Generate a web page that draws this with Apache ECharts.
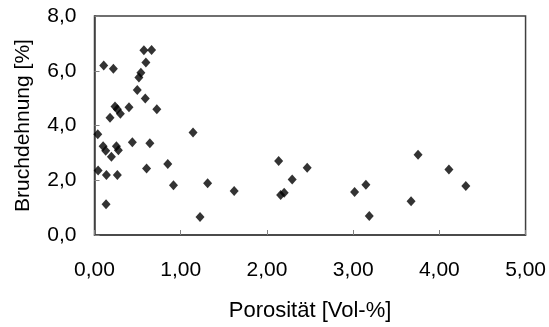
<!DOCTYPE html>
<html><head><meta charset="utf-8">
<script src="https://cdn.jsdelivr.net/npm/echarts@6/dist/echarts.min.js"></script>
<style>html,body{margin:0;padding:0;background:#fff}#c{width:549px;height:327px}</style>
</head><body><div id="c"></div>
<script>
var porositaet = [0.107,0.219,0.573,0.662,0.596,0.538,0.515,0.496,0.589,0.723,0.400,0.238,0.265,0.300,0.180,0.038,1.143,0.439,0.642,0.100,0.130,0.254,0.277,0.196,0.850,0.604,0.042,0.138,0.265,0.916,1.312,1.620,0.134,1.224,2.136,2.293,2.467,2.159,2.200,3.017,3.148,3.187,3.753,3.672,4.111,4.307];
var bruchdehnung = [6.19,6.07,6.75,6.76,6.30,5.93,5.75,5.30,4.99,4.59,4.67,4.69,4.59,4.43,4.28,3.68,3.74,3.39,3.35,3.24,3.08,3.24,3.10,2.86,2.59,2.43,2.36,2.19,2.19,1.82,1.89,1.61,1.12,0.66,2.70,2.03,2.46,1.46,1.54,1.57,1.84,0.69,2.93,1.23,2.39,1.79];
var xTicks = [0,1,2,3,4,5];
var yTicks = [0,2,4,6,8];
var points = porositaet.map(function(x,i){return [x,bruchdehnung[i]];});
var font = 'Liberation Sans, Arial, sans-serif';
var chart = echarts.init(document.getElementById('c'), null, {renderer:'canvas'});
chart.setOption({
  animation:false,
  grid:{left:94.5,right:22,top:16,bottom:87,show:true,borderColor:'#404040',borderWidth:1.5,backgroundColor:'#fff'},
  xAxis:{type:'value',min:xTicks[0],max:xTicks[xTicks.length-1],interval:1,
    name:'Porosität [Vol-%]',nameLocation:'middle',nameGap:65,
    nameTextStyle:{fontFamily:font,fontSize:22,color:'#000'},
    axisLine:{show:true,lineStyle:{color:'#404040',width:1.5}},
    axisTick:{show:true,inside:true,length:5,lineStyle:{color:'#808080'}},
    splitLine:{show:false},
    axisLabel:{fontFamily:font,fontSize:21,color:'#000',margin:25,
      formatter:function(v){return v.toFixed(2).replace('.',',');}}},
  yAxis:{type:'value',min:yTicks[0],max:yTicks[yTicks.length-1],interval:2,
    name:'Bruchdehnung [%]',nameLocation:'middle',nameGap:61,nameRotate:90,
    nameTextStyle:{fontFamily:font,fontSize:21,color:'#000'},
    axisLine:{show:true,lineStyle:{color:'#404040',width:1.5}},
    axisTick:{show:true,inside:true,length:5,lineStyle:{color:'#808080'}},
    splitLine:{show:false},
    axisLabel:{fontFamily:font,fontSize:21,color:'#000',margin:18,
      formatter:function(v){return v.toFixed(1).replace('.',',');}}},
  series:[{type:'scatter',data:points,symbol:'diamond',symbolSize:[9,10],
    itemStyle:{color:'#000'}}]
});
</script></body></html>
